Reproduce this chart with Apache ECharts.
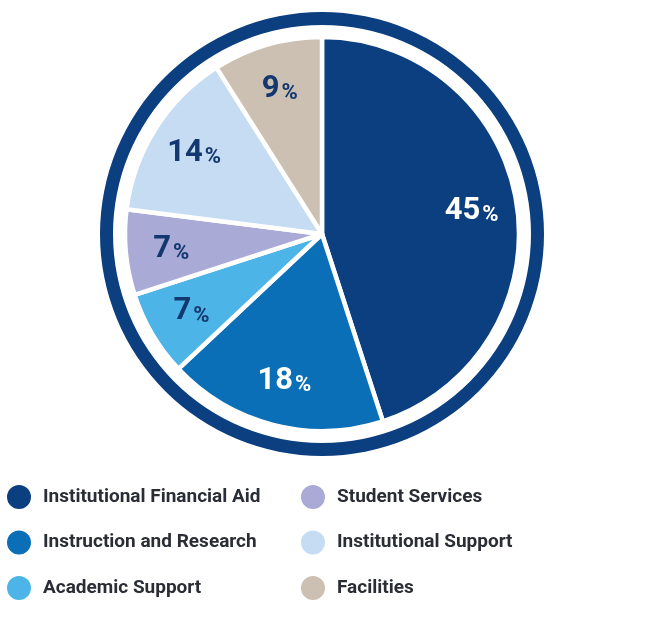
<!DOCTYPE html>
<html><head><meta charset="utf-8">
<script src="https://cdn.jsdelivr.net/npm/echarts@6/dist/echarts.min.js"></script>
<style>html,body{margin:0;padding:0;background:#fff}#c{width:650px;height:625px}</style>
</head><body><div id="c"></div>
<script>
const categories = ['Institutional Financial Aid','Instruction and Research','Academic Support','Student Services','Institutional Support','Facilities'];
const values = [45, 18, 7, 7, 14, 9];
const sliceColors = ['#0b3f7f','#0a6fb6','#4cb4e7','#aaaad7','#c6dcf3','#cbc0b2'];
const labelColors = ['#ffffff','#ffffff','#13386f','#13386f','#13386f','#13386f'];
const leftLegend = categories.slice(0,3);
const rightLegend = categories.slice(3);
const total = values.reduce((a,b)=>a+b,0);
const center = [322, 234];

const chart = echarts.init(document.getElementById('c'), null, {renderer:'canvas'});
const legendText = {fontFamily:'Roboto', fontWeight:'bold', fontSize:19, color:'#2a2d35', padding:[0,0,0,6]};
chart.setOption({
  animation:false,
  color: sliceColors,
  legend:[
    {data:leftLegend, orient:'vertical', left:5, top:483, padding:0, itemWidth:26, itemHeight:26, itemGap:17.5, icon:'circle', textStyle:legendText, selectedMode:false},
    {data:rightLegend, orient:'vertical', left:299, top:483, padding:0, itemWidth:26, itemHeight:26, itemGap:17.5, icon:'circle', textStyle:legendText, selectedMode:false}
  ],
  series:[
    {type:'pie', center:center, radius:[0,197], startAngle:90, silent:true,
     itemStyle:{borderColor:'#fff', borderWidth:4.5},
     label:{show:false}, labelLine:{show:false}, emphasis:{disabled:true},
     data: categories.map((n,i)=>({name:n, value:values[i], itemStyle:{color:sliceColors[i]}}))},
    {type:'pie', center:center, radius:[100,197], startAngle:90, silent:true,
     itemStyle:{color:'rgba(0,0,0,0)', borderWidth:0},
     labelLine:{show:false}, emphasis:{disabled:true},
     label:{show:true, position:'inside', formatter:p=>'{n|'+p.value+'}{p|%}'},
     data: categories.map((n,i)=>({name:n, value:values[i], label:{rich:{
       n:{fontFamily:'Roboto', fontWeight:'bold', fontSize:31, lineHeight:32, verticalAlign:'bottom', color:labelColors[i]},
       p:{fontFamily:'Roboto', fontWeight:'bold', fontSize:22, lineHeight:32, verticalAlign:'bottom', color:labelColors[i], padding:[0,0,0,2]}}}}))},
    {type:'pie', center:center, radius:[209,222], silent:true, label:{show:false}, labelLine:{show:false}, emphasis:{disabled:true},
     itemStyle:{color:'#0b3f7f'},
     data:[{name:'ring', value:total}]}
  ]
});
</script></body></html>
